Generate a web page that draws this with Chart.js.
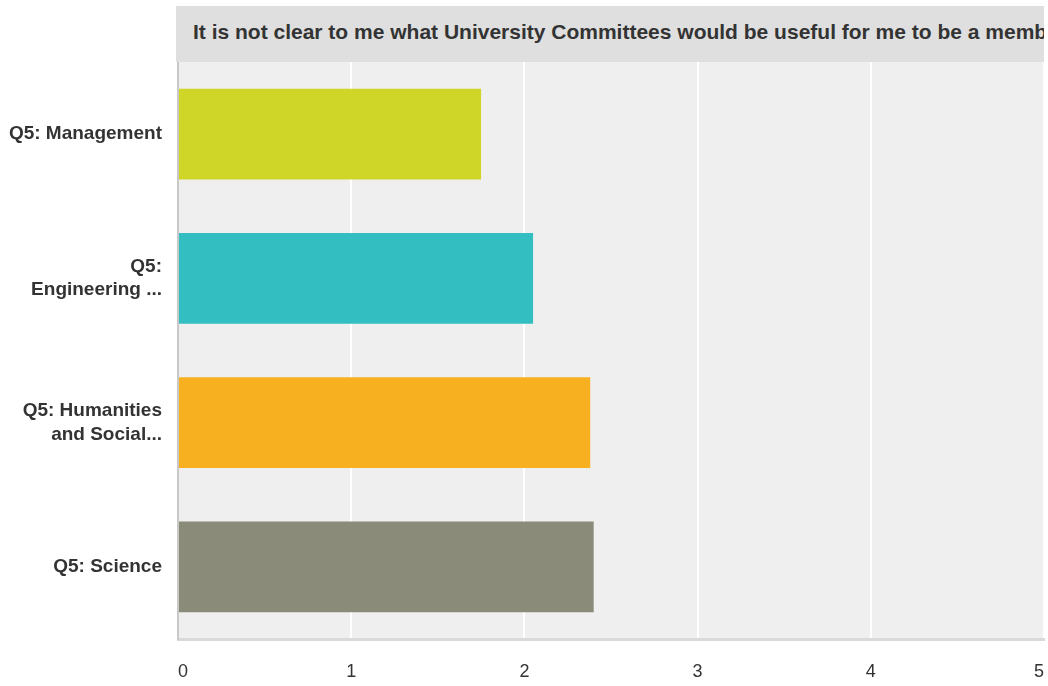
<!DOCTYPE html>
<html>
<head>
<meta charset="utf-8">
<script src="https://cdn.jsdelivr.net/npm/chart.js@4/dist/chart.umd.min.js"></script>
<style>
  body { margin: 0; background: #fff; font-family: "Liberation Sans", Arial, sans-serif; }
  #wrap { position: relative; width: 1048px; height: 686px; }
  #titulo {
    position: absolute; left: 176px; top: 6px; width: 851px; height: 56px;
    background: #dfdfdf; color: #333; font-weight: bold; font-size: 21px;
    line-height: 52px; padding-left: 17px; white-space: nowrap; overflow: hidden;
  }
</style>
</head>
<body>
<div id="wrap">
  <canvas id="grafico" width="1048" height="686"></canvas>
  <div id="titulo">It is not clear to me what University Committees would be useful for me to be a member of</div>
</div>
<script>
const categorias = ['Q5: Management', ['Q5:', 'Engineering ...'], ['Q5: Humanities', 'and Social...'], 'Q5: Science'];
const medias = [1.75, 2.05, 2.38, 2.40];
const cores = ['#d0d628', '#33bec1', '#f7b01f', '#8a8b79'];
const eixoMin = 0;
const eixoMax = 5;

// fundo cinza da area do grafico
const fundoArea = {
  id: 'fundoArea',
  beforeDraw(chart) {
    const { ctx, chartArea } = chart;
    ctx.save();
    ctx.fillStyle = '#efefef';
    ctx.fillRect(chartArea.left, chartArea.top, chartArea.right - chartArea.left, chartArea.bottom - chartArea.top);
    ctx.restore();
  }
};

new Chart(document.getElementById('grafico'), {
  type: 'bar',
  data: {
    labels: categorias,
    datasets: [{
      data: medias,
      backgroundColor: cores,
      borderWidth: 0,
      barPercentage: 0.63,
      categoryPercentage: 1
    }]
  },
  options: {
    indexAxis: 'y',
    responsive: false,
    animation: false,
    layout: { padding: { top: 62, right: 4, left: 0, bottom: 0 } },
    plugins: {
      legend: { display: false },
      tooltip: { enabled: false }
    },
    scales: {
      x: {
        min: eixoMin,
        max: eixoMax,
        ticks: {
          stepSize: 1,
          padding: 22,
          align: 'inner',
          color: '#333',
          font: { family: 'Liberation Sans', size: 18 }
        },
        grid: { color: '#ffffff', lineWidth: 2, drawTicks: false },
        border: { display: true, color: '#d9d9d9', width: 3 },
        afterFit(scale) {
          scale.height = 47;
          scale.paddingRight = 0;
          scale.paddingLeft = 0;
        }
      },
      y: {
        ticks: {
          padding: 16,
          color: '#333',
          font: { family: 'Liberation Sans', size: 19, weight: 'bold', lineHeight: 1.25 }
        },
        grid: { display: false, drawTicks: false },
        border: { display: true, color: '#c8c8c8', width: 2 },
        afterFit(scale) { scale.width = 178; }
      }
    }
  },
  plugins: [fundoArea]
});
</script>
</body>
</html>
